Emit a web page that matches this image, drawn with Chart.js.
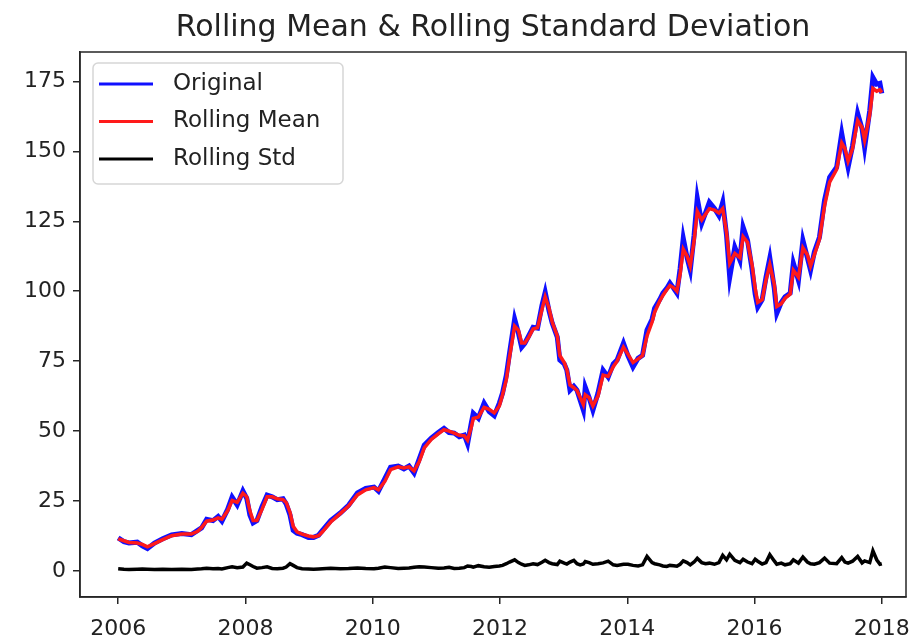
<!DOCTYPE html>
<html>
<head>
<meta charset="utf-8">
<script src="https://cdn.jsdelivr.net/npm/chart.js@4.4.1/dist/chart.umd.min.js"></script>
<style>
  body { margin: 0; background: #fff; }
  #wrap { width: 910px; height: 639px; }
</style>
</head>
<body>
<div id="wrap"><canvas id="myChart" width="910" height="639"></canvas></div>
<script>
// fechas en años decimales (aprox. cada 3-6 semanas)
const fechas = [
  2006.00, 2006.09, 2006.17, 2006.30, 2006.38, 2006.46, 2006.57, 2006.70, 2006.84,
  2007.00, 2007.15, 2007.25, 2007.31, 2007.39, 2007.49, 2007.57, 2007.63, 2007.72, 2007.79, 2007.87, 2007.96,
  2008.02, 2008.07, 2008.12, 2008.18, 2008.26, 2008.34, 2008.42, 2008.50, 2008.59, 2008.64, 2008.70, 2008.75, 2008.81, 2008.89, 2008.99,
  2009.07, 2009.15, 2009.21, 2009.34, 2009.49, 2009.62, 2009.76, 2009.89,
  2010.02, 2010.09, 2010.19, 2010.28, 2010.40, 2010.49, 2010.57, 2010.65, 2010.73, 2010.81, 2010.92,
  2011.03, 2011.12, 2011.20, 2011.28, 2011.36, 2011.44, 2011.49, 2011.55, 2011.58, 2011.66, 2011.75, 2011.83, 2011.91, 2011.99,
  2012.04, 2012.10, 2012.15, 2012.23, 2012.29, 2012.34, 2012.39, 2012.45, 2012.52, 2012.59, 2012.66, 2012.71, 2012.77, 2012.82, 2012.90, 2012.94,
  2013.01, 2013.05, 2013.10, 2013.16, 2013.21, 2013.26, 2013.31, 2013.34, 2013.40, 2013.46, 2013.54, 2013.62, 2013.70, 2013.78, 2013.84, 2013.94,
  2014.01, 2014.09, 2014.17, 2014.24, 2014.31, 2014.39, 2014.43, 2014.51, 2014.56, 2014.62, 2014.67, 2014.73, 2014.78, 2014.83, 2014.88, 2014.94,
  2014.99, 2015.05, 2015.10, 2015.17, 2015.23, 2015.29, 2015.37, 2015.44, 2015.50, 2015.56, 2015.61, 2015.69, 2015.77, 2015.82, 2015.89,
  2015.96, 2016.01, 2016.05, 2016.12, 2016.18, 2016.24, 2016.31, 2016.35, 2016.42, 2016.48, 2016.56, 2016.61, 2016.69, 2016.76, 2016.83, 2016.88,
  2016.94, 2017.02, 2017.10, 2017.18, 2017.29, 2017.37, 2017.42, 2017.47, 2017.54, 2017.62, 2017.69, 2017.73, 2017.81, 2017.86, 2017.92, 2017.97, 2018.00
];

const original = [
  11.8, 10.5, 10.0, 10.3, 9.0, 8.0, 10.0, 11.5, 12.9,
  13.4, 13.0, 14.5, 15.4, 18.5, 18.0, 19.5, 17.8, 22.0, 26.4, 23.6, 28.6,
  26.0, 20.0, 17.2, 18.0, 23.0, 27.1, 26.5, 25.5, 25.8, 24.0, 20.0, 14.5, 13.5, 13.0, 12.0,
  12.0, 12.8, 14.5, 18.0, 20.7, 23.5, 27.9, 29.5,
  30.0, 28.5, 33.0, 37.1, 37.5, 36.5, 37.5, 35.0, 40.0, 45.0, 47.5,
  49.5, 51.0, 49.5, 49.3, 48.0, 48.6, 45.5, 53.0, 56.4, 54.6, 60.0, 57.0, 55.5, 60.0,
  63.6, 70.0, 77.9, 90.0, 85.0, 80.0, 81.4, 84.0, 87.1, 86.8, 95.0, 99.6, 93.0, 88.6, 83.6, 75.4,
  74.0, 71.8, 64.6, 66.0, 64.6, 61.0, 57.5, 65.7, 62.0, 57.5, 63.6, 71.8, 69.3, 74.0, 75.4, 81.4,
  77.0, 72.9, 76.0, 77.1, 86.1, 90.0, 93.9, 97.0, 99.3, 101.0, 102.9, 101.0, 99.3, 108.0, 118.9, 112.0,
  107.5, 120.0, 133.2, 124.3, 128.0, 131.8, 129.6, 127.0, 131.8, 120.0, 105.0, 115.7, 111.1, 122.9, 118.2,
  108.0, 99.0, 94.3, 97.0, 105.0, 111.8, 101.0, 92.1, 96.0, 98.0, 99.3, 110.0, 103.9, 118.2, 112.0, 107.5,
  114.0, 119.3, 132.5, 140.7, 144.3, 156.4, 150.0, 144.3, 152.0, 163.6, 158.0, 151.4, 164.6, 176.4, 174.0, 174.3, 170.7
];

const mediaMovil = [
  11.5, 10.8, 10.2, 10.0, 9.5, 8.6, 9.8, 11.2, 12.6,
  13.2, 13.2, 14.2, 15.5, 17.8, 18.2, 19.0, 18.5, 21.5, 25.2, 24.5, 27.8,
  26.5, 21.5, 18.0, 18.0, 22.0, 26.5, 26.5, 25.8, 25.5, 24.5, 21.0, 16.0, 14.0, 13.2, 12.5,
  12.2, 12.6, 14.0, 17.5, 20.5, 23.2, 27.2, 29.0,
  29.8, 29.0, 32.0, 36.2, 37.2, 36.8, 37.2, 35.8, 39.0, 44.0, 47.0,
  49.0, 50.5, 50.0, 49.3, 48.5, 48.3, 46.8, 51.5, 54.5, 55.0, 58.5, 57.8, 56.5, 59.0,
  63.0, 68.5, 76.5, 87.5, 86.0, 81.5, 81.5, 83.5, 86.5, 87.0, 93.5, 98.0, 94.0, 89.0, 84.0, 77.0,
  74.5, 72.0, 66.5, 65.5, 64.5, 62.0, 59.5, 63.0, 62.0, 59.0, 62.5, 70.0, 69.5, 73.0, 75.0, 80.0,
  77.5, 74.5, 75.8, 77.0, 84.0, 89.0, 92.5, 96.5, 98.5, 100.5, 102.0, 101.2, 100.0, 106.0, 115.0, 112.5,
  109.0, 118.0, 128.5, 125.5, 127.5, 129.5, 129.0, 128.0, 129.5, 121.0, 110.0, 113.5, 112.0, 119.5, 117.5,
  109.5, 101.0, 96.0, 97.0, 104.0, 109.5, 102.5, 94.5, 95.5, 97.5, 99.0, 107.5, 105.0, 115.5, 113.0, 109.0,
  113.0, 118.5, 130.5, 139.0, 143.5, 153.0, 151.0, 146.5, 151.0, 161.0, 158.5, 154.0, 163.0, 172.5, 171.5, 172.0, 171.0
];

const desvMovil = [
  0.8, 0.6, 0.5, 0.6, 0.7, 0.6, 0.5, 0.6, 0.5,
  0.6, 0.5, 0.7, 0.8, 1.0, 0.8, 0.9, 0.7, 1.2, 1.5, 1.2, 1.4,
  2.8, 2.2, 1.6, 1.0, 1.2, 1.5, 0.9, 0.8, 1.0, 1.4, 2.6, 2.0, 1.2, 0.8, 0.7,
  0.6, 0.7, 0.8, 1.0, 0.8, 0.9, 1.1, 0.9,
  0.8, 1.0, 1.4, 1.2, 0.9, 1.0, 1.1, 1.3, 1.5, 1.4, 1.2,
  1.0, 1.1, 1.3, 0.9, 1.0, 1.2, 1.8, 1.6, 1.4, 1.9, 1.5, 1.3, 1.6, 1.8,
  2.0, 2.6, 3.2, 4.0, 3.0, 2.4, 2.0, 2.2, 2.6, 2.3, 3.1, 3.8, 3.0, 2.6, 2.3, 3.5,
  2.8, 2.5, 3.2, 3.8, 2.6, 2.2, 2.5, 3.4, 3.0, 2.4, 2.6, 2.9, 3.5, 2.2, 2.0, 2.4,
  2.4, 2.0, 1.8, 2.2, 5.2, 3.0, 2.6, 2.2, 1.8, 1.6, 2.0, 1.9, 1.7, 2.4, 3.6, 3.0,
  2.2, 3.2, 4.5, 3.0, 2.6, 2.8, 2.4, 3.0, 5.6, 4.0, 6.0, 3.8, 3.0, 4.2, 3.2,
  2.6, 4.2, 3.5, 2.5, 3.0, 5.8, 3.6, 2.4, 2.8, 2.2, 2.6, 4.0, 2.8, 5.0, 3.2, 2.6,
  2.4, 3.0, 4.6, 2.8, 2.6, 4.8, 3.2, 2.8, 3.5, 5.2, 2.9, 3.6, 3.0, 7.2, 4.0, 2.4, 2.6
];

const ticksX = [2006, 2008, 2010, 2012, 2014, 2016, 2018];
const ticksY = [0, 25, 50, 75, 100, 125, 150, 175];

const colorEjes = "#262626";

function puntos(valores) {
  return fechas.map((f, i) => ({ x: f, y: valores[i] }));
}

// marco completo alrededor del área del gráfico
const marcoEjes = {
  id: "marcoEjes",
  afterDatasetsDraw(chart) {
    const { ctx, chartArea: a } = chart;
    ctx.save();
    ctx.strokeStyle = colorEjes;
    ctx.lineWidth = 1.5;
    ctx.strokeRect(a.left, a.top, a.right - a.left, a.bottom - a.top);
    ctx.restore();
  },
};

// leyenda dentro del gráfico, arriba a la izquierda
const leyendaInterna = {
  id: "leyendaInterna",
  afterDraw(chart) {
    const ctx = chart.ctx;
    const x0 = 93, y0 = 63, w = 250, h = 121;
    ctx.save();
    ctx.fillStyle = "rgba(255,255,255,0.8)";
    ctx.strokeStyle = "#d6d6d6";
    ctx.lineWidth = 1.5;
    ctx.beginPath();
    ctx.roundRect(x0, y0, w, h, 5);
    ctx.fill();
    ctx.stroke();
    ctx.font = "23px 'DejaVu Sans'";
    ctx.textBaseline = "middle";
    chart.data.datasets.forEach((ds, i) => {
      const y = 84 + i * 37.5;
      ctx.strokeStyle = ds.borderColor;
      ctx.lineWidth = 3;
      ctx.beginPath();
      ctx.moveTo(99, y);
      ctx.lineTo(153, y);
      ctx.stroke();
      ctx.fillStyle = "#222";
      ctx.fillText(ds.label, 173, y);
    });
    ctx.restore();
  },
};

const config = {
  type: "line",
  data: {
    datasets: [
      { label: "Original", data: puntos(original), borderColor: "#1010ff", borderWidth: 5, order: 3 },
      { label: "Rolling Mean", data: puntos(mediaMovil), borderColor: "#ff1a1a", borderWidth: 3.5, order: 2 },
      { label: "Rolling Std", data: puntos(desvMovil), borderColor: "#000000", borderWidth: 3.5, order: 1 },
    ],
  },
  options: {
    responsive: false,
    animation: false,
    layout: { padding: { left: 0, right: 4, top: 0, bottom: 0 } },
    elements: { point: { radius: 0 }, line: { tension: 0 } },
    plugins: {
      legend: { display: false },
      tooltip: { enabled: false },
      title: {
        display: true,
        fullSize: false,
        text: "Rolling Mean & Rolling Standard Deviation",
        color: "#222",
        font: { family: "DejaVu Sans", size: 30, weight: "normal" },
        padding: { top: 10, bottom: 6 },
      },
    },
    scales: {
      x: {
        type: "linear",
        min: 2005.4,
        max: 2018.38,
        afterFit(scale) { scale.height = 42; scale.paddingLeft = 0; scale.paddingRight = 0; },
        afterBuildTicks(scale) { scale.ticks = ticksX.map((v) => ({ value: v })); },
        ticks: {
          color: "#222",
          font: { family: "DejaVu Sans", size: 22 },
          padding: 12,
          maxRotation: 0,
          callback: (v) => String(v),
        },
        grid: { drawOnChartArea: false, drawTicks: true, tickLength: 7, color: colorEjes, lineWidth: 1.5 },
        border: { display: true, color: colorEjes, width: 1.5 },
      },
      y: {
        type: "linear",
        min: -9.3,
        max: 185.5,
        afterFit(scale) { scale.width = 80; },
        afterBuildTicks(scale) { scale.ticks = ticksY.map((v) => ({ value: v })); },
        ticks: {
          color: "#222",
          font: { family: "DejaVu Sans", size: 22 },
          padding: 7,
          callback: (v) => String(v),
        },
        grid: { drawOnChartArea: false, drawTicks: true, tickLength: 7, color: colorEjes, lineWidth: 1.5 },
        border: { display: true, color: colorEjes, width: 1.5 },
      },
    },
  },
  plugins: [marcoEjes, leyendaInterna],
};

new Chart(document.getElementById("myChart"), config);
</script>
</body>
</html>
